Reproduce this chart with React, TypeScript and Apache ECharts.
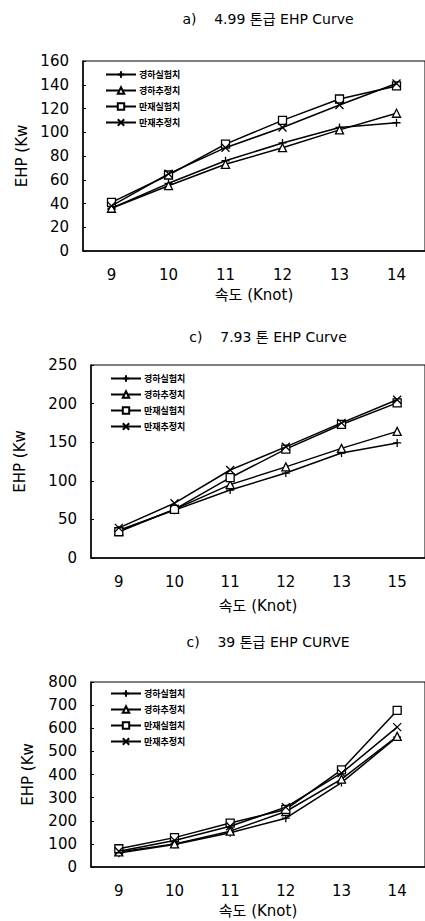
import React, { useEffect, useRef } from "react";
import * as echarts from "echarts";

const seriesNames = ["경하실험치", "경하추정치", "만재실험치", "만재추정치"];

const cats1 = ["9", "10", "11", "12", "13", "14"];
const c1LightExp = [36, 57, 76, 91, 104, 108];
const c1LightEst = [36, 55, 73, 87, 102, 116];
const c1FullExp = [41, 64, 90, 110, 128, 139];
const c1FullEst = [38, 65, 87, 104, 123, 141];

const cats2 = ["9", "10", "11", "12", "13", "15"];
const c2LightExp = [36, 62, 88, 110, 136, 149];
const c2LightEst = [35, 63, 95, 118, 142, 164];
const c2FullExp = [34, 63, 104, 141, 173, 201];
const c2FullEst = [39, 71, 114, 144, 175, 205];

const cats3 = ["9", "10", "11", "12", "13", "14"];
const c3LightExp = [60, 97, 148, 211, 365, 562];
const c3LightEst = [65, 100, 155, 240, 380, 565];
const c3FullExp = [79, 127, 190, 249, 420, 677];
const c3FullEst = [68, 115, 176, 259, 406, 605];

const titles = ["a)    4.99 톤급 EHP Curve", "c)    7.93 톤 EHP Curve", "c)    39 톤급 EHP CURVE"];
const yMax = [160, 250, 800];
const yInterval = [20, 50, 100];

const FONT = "'DejaVu Sans', 'Noto Sans CJK KR', sans-serif";
const LFONT = "'Noto Sans CJK KR', sans-serif";

const symbols = [
  "path://M0,5L10,5M5,0L5,10",
  "triangle",
  "rect",
  "path://M0,0L10,10M10,0L0,10",
];

export default function App() {
  const ref = useRef<HTMLDivElement>(null);
  useEffect(() => {
    if (!ref.current) return;
    const chart = echarts.init(ref.current, undefined, { renderer: "svg" });
    const grids = [
      { left: 83, top: 61, right: -3, height: 190 },
      { left: 91, top: 365, right: -3, height: 193 },
      { left: 91, top: 682, right: -3, height: 185 },
    ];
    const cats = [cats1, cats2, cats3];
    const data = [
      [c1LightExp, c1LightEst, c1FullExp, c1FullEst],
      [c2LightExp, c2LightEst, c2FullExp, c2FullEst],
      [c3LightExp, c3LightEst, c3FullExp, c3FullEst],
    ];
    const yNameGap = [50, 64, 56];
    const xNameGap = [36, 40, 36];
    const titleTops = [7, 325, 630];
    const legendTops = [65, 369, 684];
    const legendLefts = [100, 105, 105];

    const series: any[] = [];
    data.forEach((set, gi) => {
      set.forEach((vals, si) => {
        const hollow = si === 1 || si === 2;
        series.push({
          type: "line",
          name: seriesNames[si],
          xAxisIndex: gi,
          yAxisIndex: gi,
          data: vals,
          symbol: symbols[si],
          symbolSize: 8,
          showAllSymbol: true,
          lineStyle: { color: "#000", width: 1.5 },
          itemStyle: {
            color: hollow ? "#fff" : "#000",
            borderColor: "#000",
            borderWidth: 1.3,
          },
          z: 3 + si,
        });
      });
    });

    chart.setOption({
      animation: false,
      backgroundColor: "#fff",
      textStyle: { fontFamily: FONT },
      title: titles.map((t, i) => ({
        text: t,
        left: 263,
        textAlign: "center",
        top: titleTops[i],
        textStyle: { fontFamily: FONT, fontSize: 14, fontWeight: "normal", color: "#000" },
      })),
      legend: legendTops.map((top, i) => ({
        data: seriesNames,
        orient: "vertical",
        left: legendLefts[i],
        top,
        itemWidth: 30,
        itemHeight: 8,
        itemGap: 7,
        selectedMode: false,
        textStyle: { fontFamily: LFONT, fontSize: 9, fontWeight: "bold", color: "#000", padding: [0, 0, 0, -2] },
      })),
      grid: grids.map((g) => ({
        ...g,
        show: true,
        borderColor: "#000",
        borderWidth: 1,
        backgroundColor: "transparent",
      })),
      xAxis: cats.map((c, i) => ({
        type: "category",
        gridIndex: i,
        data: c,
        boundaryGap: true,
        name: "속도 (Knot)",
        nameLocation: "middle",
        nameGap: xNameGap[i],
        nameTextStyle: { fontFamily: FONT, fontSize: 15, color: "#000" },
        axisLine: { lineStyle: { color: "#000", width: 1.5 } },
        axisTick: { inside: true, length: 4, lineStyle: { color: "#000" } },
        axisLabel: { fontFamily: FONT, fontSize: 15, color: "#000", margin: 16 },
        splitLine: { show: false },
      })),
      yAxis: yMax.map((m, i) => ({
        type: "value",
        gridIndex: i,
        min: 0,
        max: m,
        interval: yInterval[i],
        name: "EHP (Kw",
        nameLocation: "middle",
        nameGap: yNameGap[i],
        nameRotate: 90,
        nameTextStyle: { fontFamily: FONT, fontSize: 15, color: "#000" },
        axisLine: { show: true, lineStyle: { color: "#000", width: 1.5 } },
        axisTick: { show: true, inside: true, length: 3, lineStyle: { color: "#000" } },
        axisLabel: { fontFamily: FONT, fontSize: 15, color: "#000", margin: 14 },
        splitLine: { show: false },
      })),
      series,
    });
    return () => chart.dispose();
  }, []);
  return (
    <div
      ref={ref}
      style={{ position: "absolute", left: 0, top: 0, width: 425, height: 921, background: "#fff" }}
    />
  );
}
